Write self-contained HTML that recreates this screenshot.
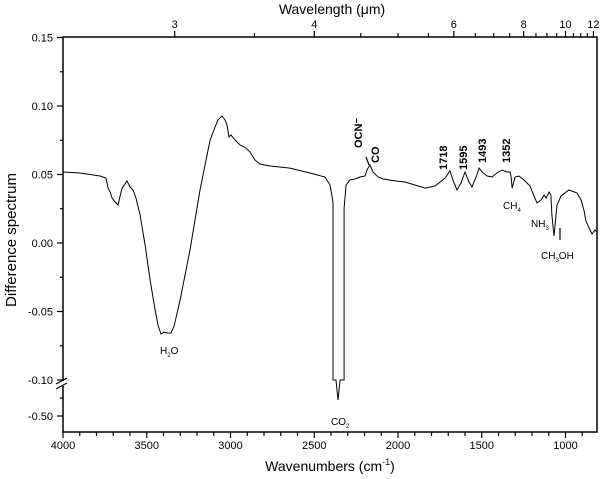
<!DOCTYPE html>
<html><head><meta charset="utf-8"><style>
body{margin:0;background:#fff}
svg{display:block;font-family:"Liberation Sans",sans-serif}
</style></head><body>
<svg id="chart" width="600" height="479" viewBox="0 0 600 479">
<rect x="0" y="0" width="600" height="479" fill="#fff"/>
<g id="axes"></g>
<path id="spectrum" fill="none" stroke="#000" stroke-width="1"/>
<g id="annot"></g>
<text transform="translate(16,240) rotate(-90)" text-anchor="middle" font-size="15">Difference spectrum</text>
<text x="330" y="471" text-anchor="middle" font-size="14">Wavenumbers (cm<tspan dy="-6" font-size="9">-1</tspan><tspan dy="6">)</tspan></text>
<text x="332" y="14" text-anchor="middle" font-size="14">Wavelength (μm)</text>
</svg>
<script>
// data (wavenumber cm-1, difference value)
const wavenumbers=[4000,3899,3779,3743,3731,3719,3707,3689,3671,3659,3647,3618,3600,3582,3564,3540,3510,3480,3450,3433,3415,3397,3379,3355,3337,3301,3242,3182,3122,3099,3075,3051,3033,3021,3009,2997,2973,2943,2907,2884,2854,2824,2764,2645,2525,2436,2406,2394,2388,2388,2370,2358,2346,2322,2322,2310,2287,2257,2227,2197,2185,2167,2149,2119,2089,2018,1958,1899,1839,1779,1719,1690,1672,1648,1624,1600,1576,1558,1534,1516,1498,1469,1439,1409,1379,1349,1331,1325,1319,1301,1278,1248,1212,1188,1170,1146,1128,1116,1098,1087,1081,1069,1051,1027,979,931,907,890,878,860,842,824,815];
const values=[0.0518,0.0511,0.0489,0.0474,0.0401,0.0372,0.0328,0.0299,0.0277,0.0343,0.0401,0.0453,0.0409,0.0387,0.0328,0.0204,-0.0015,-0.0270,-0.0489,-0.0599,-0.0664,-0.0650,-0.0657,-0.0657,-0.0606,-0.0416,-0.0051,0.0387,0.0752,0.0825,0.0898,0.0927,0.0898,0.0861,0.0774,0.0788,0.0752,0.0715,0.0693,0.0664,0.0606,0.0577,0.0562,0.0547,0.0511,0.0482,0.0423,0.0343,0.0292,-0.1000,-0.1000,-0.3220,-0.1000,-0.1000,0.0255,0.0423,0.0460,0.0467,0.0482,0.0489,0.0533,0.0569,0.0518,0.0482,0.0467,0.0453,0.0445,0.0423,0.0401,0.0416,0.0474,0.0526,0.0460,0.0387,0.0438,0.0518,0.0445,0.0409,0.0482,0.0547,0.0518,0.0489,0.0482,0.0511,0.0533,0.0518,0.0518,0.0482,0.0401,0.0482,0.0489,0.0460,0.0416,0.0343,0.0292,0.0314,0.0350,0.0328,0.0372,0.0350,0.0204,0.0051,0.0277,0.0343,0.0387,0.0365,0.0314,0.0241,0.0161,0.0110,0.0066,0.0095,0.0080];
const xTicks=[4000,3500,3000,2500,2000,1500,1000];
const yTicks=[0.15,0.10,0.05,0.00,-0.05,-0.10,-0.50];
const yTickLabels=["0.15","0.10","0.05","0.00","-0.05","-0.10","-0.50"];
const topMajor=[3,4,6,8,10,12];
const topMinor=[3.5,4.5,5,5.5,6.5,7,7.5,8.5,9,9.5,10.5,11,11.5];

const L=63,R=597,T=37,B=432;
const WN0=4000,WN1=812;
function X(wn){return L+(WN0-wn)*(R-L)/(WN0-WN1);}
function Y(v){ if(v>=-0.1) return 243-v*1370; return 380+(-0.1-v)/0.4*36; }
const NS="http://www.w3.org/2000/svg";
function el(tag,attrs,parent,text){const e=document.createElementNS(NS,tag);for(const k in attrs)e.setAttribute(k,attrs[k]);if(text!==undefined)e.textContent=text;parent.appendChild(e);return e;}
const ax=document.getElementById('axes');
const frame=el('rect',{x:L,y:T,width:R-L,height:B-T,fill:'none',stroke:'#000','stroke-width':1.5},ax);


for(let w=4000;w>=900;w-=100){const major=w%500===0;
 const t=el('line',{x1:X(w),x2:X(w),y1:B,y2:B+(major?6:4),stroke:'#000','stroke-width':1.2},ax);
 
 }
xTicks.forEach(w=>{const t=el('text',{x:X(w),y:B+17,'text-anchor':'middle','font-size':11},ax,String(w));
 
 });
yTicks.forEach((v,i)=>{
 const t=el('line',{x1:L-6,x2:L,y1:Y(v),y2:Y(v),stroke:'#000','stroke-width':1.2},ax);
 
 
 const lb=el('text',{x:L-10,y:Y(v)+4,'text-anchor':'end','font-size':11},ax,yTickLabels[i]);
 
 });
[0.125,0.075,0.025,-0.025,-0.075].forEach(v=>{
 const t=el('line',{x1:L-3,x2:L,y1:Y(v),y2:Y(v),stroke:'#000','stroke-width':1.2},ax);
 
 });
const mt=el('line',{x1:L-3,x2:L,y1:398,y2:398,stroke:'#000','stroke-width':1.2},ax);


const br=el('g',{},ax);


el('rect',{x:L-2,y:381,width:5,height:5,fill:'#fff'},br);
el('line',{x1:L-7,y1:384,x2:L+4,y2:378,stroke:'#000','stroke-width':1.2},br);
el('line',{x1:L-7,y1:389,x2:L+4,y2:383,stroke:'#000','stroke-width':1.2},br);
topMajor.forEach(m=>{const x=X(10000/m);
 const t=el('line',{x1:x,x2:x,y1:T-6,y2:T,stroke:'#000','stroke-width':1.2},ax);
 
 
 const lb=el('text',{x:x,y:T-9,'text-anchor':'middle','font-size':11},ax,String(m));
 
 });
topMinor.forEach(m=>{const x=X(10000/m);
 const t=el('line',{x1:x,x2:x,y1:T-4,y2:T,stroke:'#000','stroke-width':1.2},ax);
 
 });
let d='';wavenumbers.forEach((w,i)=>{d+=(i?'L':'M')+X(w).toFixed(1)+' '+Y(values[i]).toFixed(1)+' ';});
document.getElementById('spectrum').setAttribute('d',d);
const an=document.getElementById('annot');
function label(txt,x,y,opts){const t=el('text',Object.assign({x:x,y:y,'font-size':10},opts||{}),an,txt);return t;}
let a;
a=label('',160,354);a.innerHTML='H<tspan font-size="6" dy="3">2</tspan><tspan dy="-3">O</tspan>';

a=label('',331,425);a.innerHTML='CO<tspan font-size="6" dy="3">2</tspan>';

a=label('',503,209);a.innerHTML='CH<tspan font-size="6" dy="3">4</tspan>';

a=label('',531,227);a.innerHTML='NH<tspan font-size="6" dy="3">3</tspan>';

a=label('',541,259);a.innerHTML='CH<tspan font-size="6" dy="3">3</tspan><tspan dy="-3">OH</tspan>';

[['OCN⁻',362,148,'ocn-label'],['CO',379,163,'co-label'],['1718',447,170,'peak-1718-label'],['1595',467,170,'peak-1595-label'],['1493',486,163,'peak-1493-label'],['1352',510,163,'peak-1352-label']].forEach(p=>{
 const t=el('text',{transform:'translate('+p[1]+','+p[2]+') rotate(-90)','font-size':11,'font-weight':'bold'},an,p[0]);
 
 });
const ar=el('line',{x1:560,y1:228,x2:560,y2:240,stroke:'#000','stroke-width':1.2},an);


const ar2=el('line',{x1:366,y1:157,x2:369,y2:165,stroke:'#000','stroke-width':1.2},an);


</script>
</body></html>
